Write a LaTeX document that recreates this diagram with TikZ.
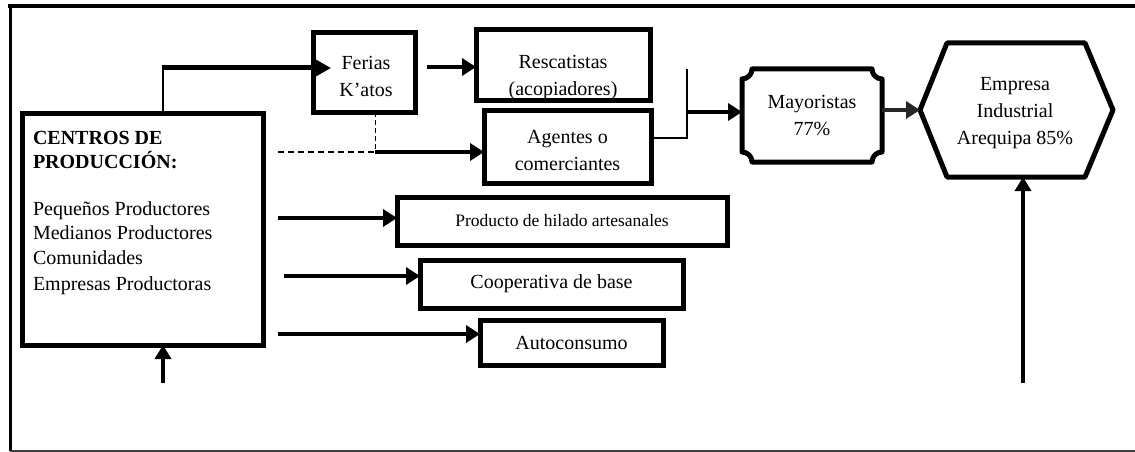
\documentclass[tikz,border=0pt]{standalone}
\usepackage{fontspec}
\setmainfont{Liberation Serif}
\usetikzlibrary{arrows.meta,calc}
\begin{document}
\begin{tikzpicture}[x=1pt,y=-1pt,
  every node/.style={inner sep=0pt, outer sep=0pt, font=\fontsize{20}{27}\selectfont},
  box/.style={draw, line width=5pt, align=center},
  arr/.style={line width=4.5pt, -{Triangle[length=14pt,width=17pt]}},
  thinarr/.style={line width=4pt, -{Triangle[length=14pt,width=16pt]}},
  ln/.style={line width=2pt},
  lbl/.style={anchor=base west},
]
\useasboundingbox (0,0) rectangle (1135,452);
% outer frame
\draw[line width=4.5pt] (8,6) -- (1135,6);
\draw[line width=3pt] (10,4) -- (10,451);
\draw[line width=1.5pt, black!75] (10,451) -- (1135,451);

% nodes
\node[box, minimum width=241pt, minimum height=232pt] (centros) at (142.5,229) {};
\node[lbl, font=\fontsize{20}{27}\selectfont\bfseries] (t1) at (33,144) {CENTROS DE};
\node[lbl, font=\fontsize{20}{27}\selectfont\bfseries] (t2) at (33,168) {PRODUCCIÓN:};
\node[lbl] (t3) at (33,215) {Pequeños Productores};
\node[lbl] (t4) at (33,239) {Medianos Productores};
\node[lbl] (t5) at (33,264) {Comunidades};
\node[lbl] (t6) at (33,290) {Empresas Productoras};

\node[box, minimum width=102pt, minimum height=79pt] (ferias) at (364,72.5) {};
\node (tf) at (366,76) [align=center] {Ferias\\K’atos};

\node[box, minimum width=174pt, minimum height=70pt] (resc) at (563,65) {};
\begin{scope}
  \clip (478,32) rectangle (648,97);
  \node (tr) at (563,78) [align=center] {Rescatistas\\(acopiadores)};
\end{scope}

\node[box, minimum width=167pt, minimum height=73pt] (agentes) at (567.5,146.5) {};
\node (ta) at (567.5,150) [align=center] {Agentes o\\comerciantes};

\node[box, minimum width=330pt, minimum height=48pt, font=\fontsize{17.5}{21}\selectfont] (prod) at (562,221) {Producto de hilado artesanales};
\node[box, minimum width=263pt, minimum height=48pt] (coop) at (551.5,284) {Cooperativa de base};
\node[box, minimum width=183pt, minimum height=45pt] (auto) at (571.5,342.5) {Autoconsumo};

% Mayoristas (concave corners)
\node[minimum width=140pt, minimum height=93pt, align=center] (mayo) at (812,115.5) {Mayoristas\\77\%};
\draw[line width=5pt, line join=round]
  (742,79) .. controls (747.5,79) and (752,74.5) .. (752,69)
  -- (872,69) .. controls (872,74.5) and (876.5,79) .. (882,79)
  -- (882,152) .. controls (876.5,152) and (872,156.5) .. (872,162)
  -- (752,162) .. controls (752,156.5) and (747.5,152) .. (742,152)
  -- cycle;

% Hexagon
\coordinate (hW) at (920,110);
\coordinate (hS) at (1016,177);
\draw[line width=5pt, line join=round]
  (hW) -- (947,43) -- (1085,43) -- (1113,110) -- (1085,177) -- (947,177) -- cycle;
\node[align=center] (hex) at (1015,113) {Empresa\\Industrial\\Arequipa 85\%};

% connectors
\coordinate (k1) at (163,68);
\coordinate (k2) at ($(ferias.west |- k1)+(18,0)$);
\draw[line width=2pt] (centros.north -| k1) -- ([yshift=-2pt]k1);
\draw[line width=5pt, -{Triangle[length=18pt,width=19pt]}] ([xshift=-1pt]k1) -- (k2);

\coordinate (r0) at (427,67);
\draw[arr] (r0) -- (resc.west |- r0);

\coordinate (d0) at (278,152);
\coordinate (d1) at (375,152);
\draw[line width=1.5pt, dash pattern=on 6pt off 4pt] (d0) -- (d1);
\draw[line width=1pt, dash pattern=on 5pt off 3pt] (ferias.south -| d1) -- (d1);
\draw[arr] (d1) -- (agentes.west |- d1);

\coordinate (b1) at (687,69);
\coordinate (b2) at (687,138);
\coordinate (b3) at (687,112);
\draw[ln] (b1) -- (b2) -- (agentes.east |- b2);
\draw[arr] (b3) -- (mayo.west |- b3);

\draw[arr, black!85] (mayo.east |- hW) -- (hW);

\coordinate (p0) at (278,218);
\coordinate (c0) at (284,276);
\coordinate (a0) at (278,334);
\draw[arr] (p0) -- (prod.west |- p0);
\draw[arr] (c0) -- (coop.west |- c0);
\draw[arr] (a0) -- (auto.west |- a0);

\coordinate (u1) at (163,383);
\draw[thinarr] (u1) -- (centros.south -| u1);
\coordinate (u2) at (1023,383);
\draw[thinarr] (u2) -- (u2 |- hS);
\end{tikzpicture}
\end{document}
